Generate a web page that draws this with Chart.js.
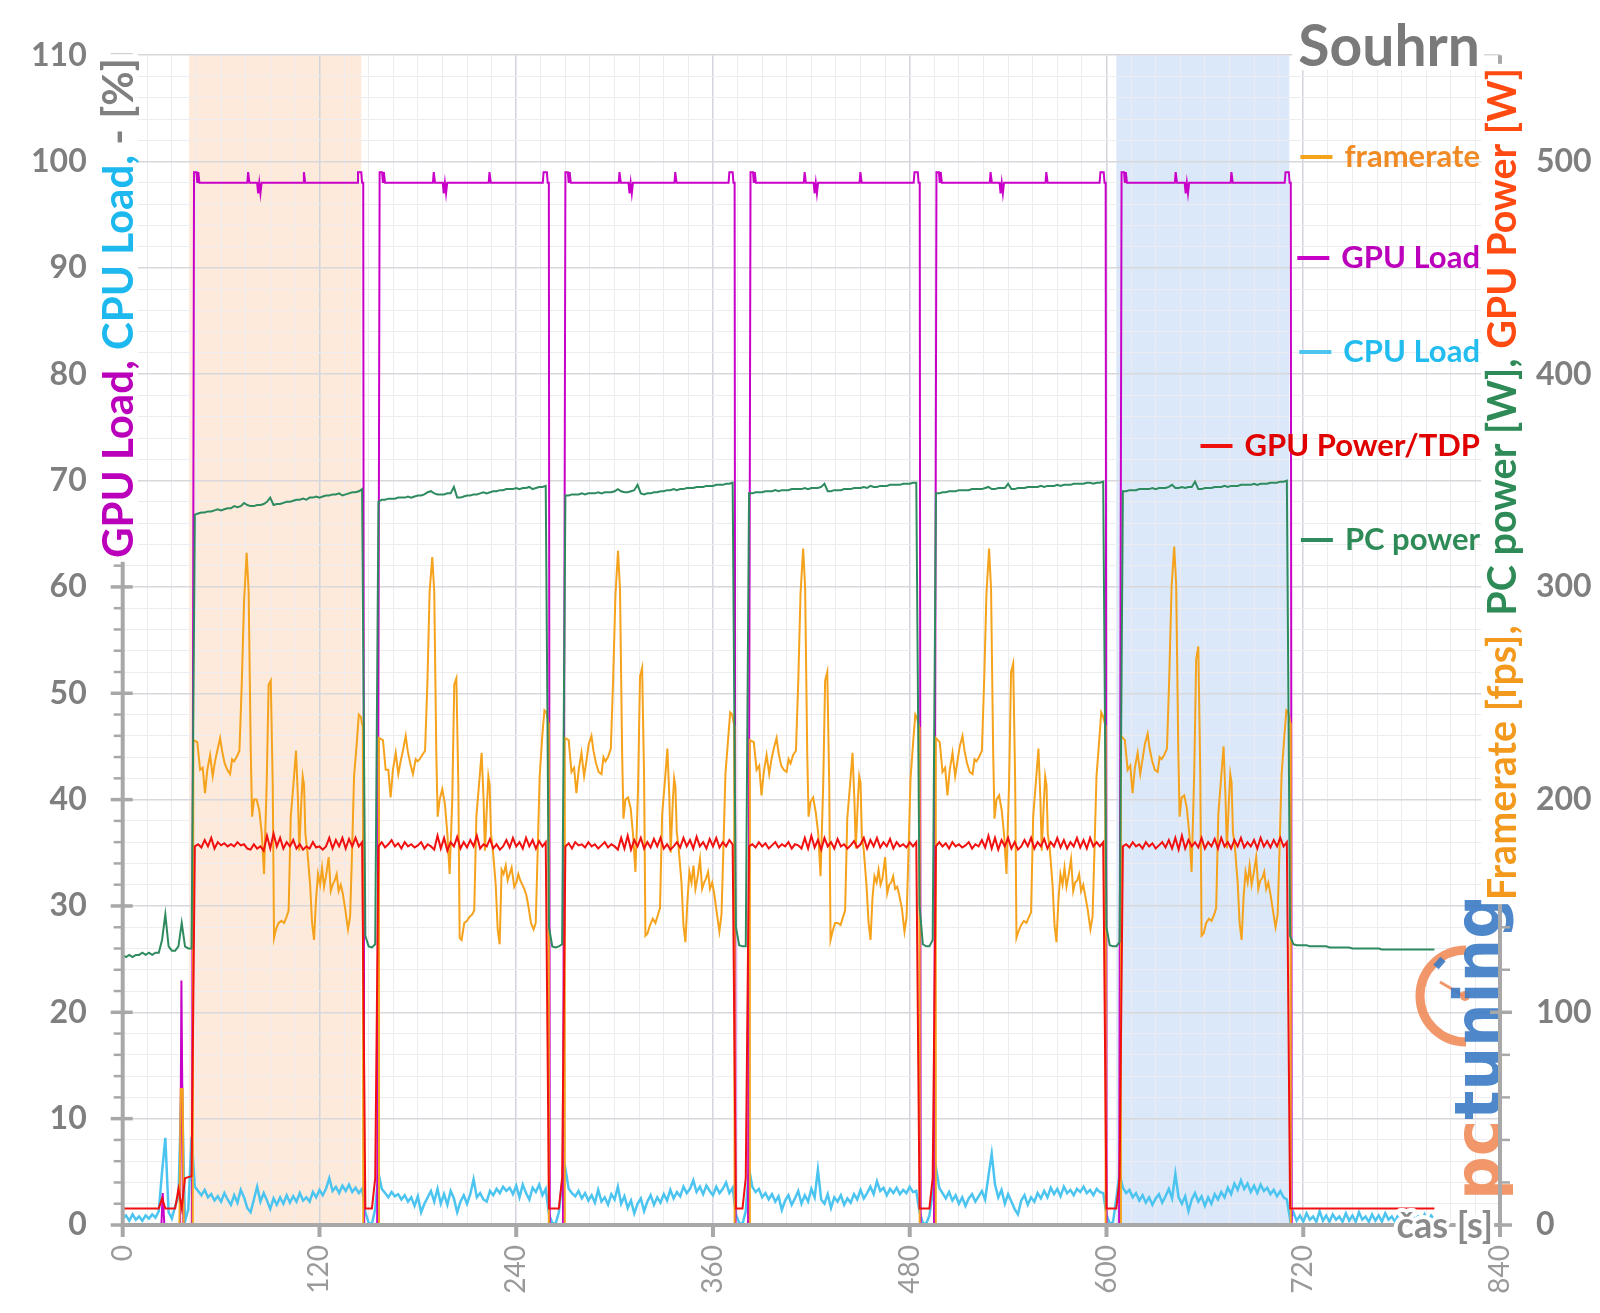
<!DOCTYPE html>
<html>
<head>
<meta charset="utf-8">
<script src="https://cdn.jsdelivr.net/npm/chart.js@4.4.1/dist/chart.umd.min.js"></script>
<style>
  html, body { margin: 0; padding: 0; background: #fff; }
  #wrap { width: 1600px; height: 1313px; }
</style>
</head>
<body>
<div id="wrap"><canvas id="chart" width="1600" height="1313"></canvas></div>
<script>
// ---- data ----
// noisy series sampled every 2 s, one row = 20 s
const sampleStep = 2;

// CPU Load [%] (left axis)
const cpuLoad = [
  0.6, 0.9, 0.4, 1.0, 0.5, 0.8, 0.4, 0.9, 0.6, 1.0,      // 0
  0.7, 1.3, 5.0, 8.2, 1.2, 0.6, 1.8, 2.6, 13.8, 0.3,     // 20
  1.5, 8.3, 3.6, 3.2, 2.8, 3.3, 2.6, 2.9, 2.3, 2.7,      // 40
  2.2, 3.0, 2.4, 1.9, 2.8, 2.1, 3.3, 2.6, 1.6, 1.2,      // 60
  2.4, 3.6, 2.2, 3.0, 2.3, 1.5, 2.5, 1.9, 2.6, 2.0,      // 80
  2.8, 2.1, 2.7, 2.2, 3.0, 2.3, 2.6, 2.2, 3.1, 2.6,      // 100
  3.3, 2.8, 3.4, 4.4, 3.2, 3.6, 3.0, 3.7, 3.2, 3.8,      // 120
  3.1, 3.5, 3.0, 3.4, 1.2, 0.2, 0.1, 1.5, 4.9, 3.4,      // 140
  3.0, 2.6, 3.1, 2.7, 2.9, 2.4, 2.8, 2.2, 2.6, 1.8,      // 160
  2.7, 1.2, 2.0, 2.6, 3.2, 2.2, 3.4, 2.0, 2.9, 1.9,      // 180
  3.2, 2.5, 1.2, 2.2, 2.8, 2.0, 2.9, 4.3, 2.6, 3.0,      // 200
  2.4, 2.2, 3.2, 2.8, 3.4, 3.0, 3.6, 3.2, 3.5, 2.9,      // 220
  3.7, 2.6, 3.8, 3.0, 2.4, 3.5, 3.1, 3.8, 2.8, 3.4,      // 240
  1.0, 0.2, 0.1, 1.2, 4.0, 5.3, 3.4, 3.0, 2.7, 3.2,      // 260
  2.5, 3.0, 2.3, 2.8, 2.1, 3.3, 2.2, 2.6, 1.9, 2.9,      // 280
  2.4, 3.6, 2.0, 2.7, 1.6, 2.3, 1.1, 2.0, 2.5, 1.3,      // 300
  2.2, 2.8, 1.9, 2.6, 2.1, 2.9, 2.3, 3.3, 2.5, 3.1,      // 320
  2.7, 3.6, 3.0, 3.4, 4.2, 3.1, 3.6, 2.9, 3.7, 3.2,      // 340
  2.8, 3.6, 3.0, 3.4, 4.0, 3.0, 3.5, 1.0, 0.2, 0.1,      // 360
  1.3, 5.3, 3.6, 3.1, 3.4, 2.6, 3.0, 2.4, 2.9, 2.2,      // 380
  2.7, 1.4, 2.3, 2.8, 1.9, 2.5, 3.2, 2.0, 2.8, 2.2,      // 400
  3.4, 2.6, 5.2, 2.4, 2.0, 2.9, 1.6, 2.6, 2.2, 2.8,      // 420
  1.9, 2.5, 2.1, 2.9, 2.4, 3.3, 2.5, 3.0, 3.6, 2.9,      // 440
  4.1, 3.2, 3.5, 2.8, 3.4, 3.0, 3.5, 2.9, 3.3, 3.0,      // 460
  3.6, 3.1, 3.2, 1.2, 0.2, 0.1, 0.9, 3.0, 5.4, 3.5,      // 480
  3.0, 2.5, 3.1, 2.3, 2.8, 2.0, 2.6, 1.8, 2.5, 2.9,      // 500
  2.2, 2.7, 3.2, 2.4, 4.6, 6.7, 3.8, 2.6, 3.3, 2.0,      // 520
  2.9, 2.2, 1.5, 1.0, 2.3, 2.8, 1.9, 2.6, 2.2, 3.0,      // 540
  2.5, 3.2, 2.6, 3.5, 2.9, 3.4, 2.7, 3.6, 3.0, 3.3,      // 560
  2.8, 3.4, 3.1, 3.6, 3.0, 3.3, 2.8, 3.4, 3.1, 3.0,      // 580
  1.0, 0.1, 0.3, 2.5, 4.8, 3.5, 3.0, 3.3, 2.6, 3.0,      // 600
  2.3, 2.8, 2.1, 2.6, 1.9, 2.5, 2.9, 2.1, 2.7, 3.4,      // 620
  2.5, 4.8, 2.6, 2.0, 2.7, 1.3, 2.4, 3.0, 2.2, 2.7,      // 640
  1.8, 2.6, 2.0, 2.9, 2.4, 3.1, 2.6, 3.5, 2.9, 3.9,      // 660
  3.3, 4.2, 3.4, 3.9, 3.1, 3.7, 3.0, 3.8, 3.2, 3.5,      // 680
  2.9, 3.3, 2.7, 3.2, 2.6, 2.4, 0.5, 1.2, 0.4, 0.9,      // 700
  0.3, 1.1, 0.5, 0.8, 0.3, 1.3, 0.4, 0.9, 0.3, 1.0,      // 720
  0.5, 0.8, 0.3, 1.1, 0.4, 0.9, 0.3, 1.2, 0.5, 0.8,      // 740
  0.3, 1.0, 0.4, 0.9, 0.3, 1.1, 0.5, 0.8, 0.3, 1.0,      // 760
  0.4, 0.9, 0.3, 1.1, 0.5, 0.8, 0.3, 1.0, 0.4, 0.9,      // 780
  0.5                                                     // 800
];

// GPU Power/TDP [W] (right axis)
const gpuPower = [
  7.8, 7.8, 7.8, 7.8, 7.8, 7.8, 7.8, 7.8, 7.8, 7.8,                 // 0
  7.8, 7.8, 12.5, 7.8, 7.8, 7.8, 7.8, 17, 8, 22,                    // 20
  22.5, 23, 178, 179, 177.5, 181, 178, 182, 177, 180,               // 40
  178.5, 179.5, 178, 179, 178, 180, 178.5, 179, 177, 176.5,         // 60
  179, 177, 178, 176, 183, 177, 184, 178, 182, 177,                 // 80
  180, 178, 181, 177, 179, 176.5, 178, 177, 180, 177.5,             // 100
  178, 176.5, 178, 182, 177, 181, 178, 182, 177, 181.5,             // 120
  178, 182, 178, 180, 7.8, 7.8, 7.8, 22, 178, 180,                  // 140
  177.5, 179, 181, 178, 179.5, 177, 180, 178, 179, 177.5,           // 160
  178.5, 180, 177, 179, 178, 176.5, 183, 177, 182, 176,             // 180
  180, 178, 182.5, 177, 180, 177.5, 181, 178, 183, 177,             // 200
  179, 178, 181.5, 177, 179, 176.5, 178, 181, 177.5, 182,           // 220
  178, 180, 177, 182, 178, 181, 177, 180.5, 178, 180,               // 240
  7.8, 7.8, 7.8, 7.8, 22, 178, 179.5, 177, 180, 178.5,              // 260
  179, 177.5, 180, 178, 179, 177, 178.5, 180, 177.5, 179,           // 280
  178, 176.5, 182, 177, 183, 176.5, 181, 178, 182, 177,             // 300
  180, 177.5, 181.5, 178, 182, 177, 179, 176.5, 178, 180,           // 320
  177.5, 182, 178, 181, 177, 182.5, 178, 180, 177, 181.5,           // 340
  178, 182, 177.5, 180, 178, 181, 179, 7.8, 7.8, 7.8,               // 360
  22, 178, 179, 177.5, 180, 178, 179.5, 177, 178.5, 180,            // 380
  177.5, 179, 178, 180, 177, 179, 178.5, 177, 182, 177,             // 400
  183, 177.5, 181, 176.5, 182, 178, 180, 177, 181.5, 178,           // 420
  179, 177, 178.5, 180.5, 177.5, 179, 182, 177, 181, 178,           // 440
  182, 177.5, 180, 178, 181.5, 177, 180, 178, 179, 177.5,           // 460
  180, 178, 180, 7.8, 7.8, 7.8, 7.8, 22, 178, 180,                  // 480
  178, 179.5, 177, 180, 178, 179, 177.5, 178.5, 180, 177,           // 500
  179, 178, 181, 177.5, 183, 177, 182, 176.5, 181, 178,             // 520
  182, 177, 180, 176.5, 178, 181, 178, 182, 177, 180,               // 540
  178, 181.5, 177, 180, 178, 182, 177.5, 181, 177, 180,             // 560
  178, 182, 177.5, 181, 177, 182, 178, 180, 178, 180,               // 580
  7.8, 7.8, 7.8, 7.8, 22, 178, 179, 177.5, 180, 178,                // 600
  179, 177, 180, 178, 179.5, 177, 178.5, 180, 177.5, 181,           // 620
  177, 182, 176.5, 183, 177, 181, 178, 180, 177.5, 182,             // 640
  177, 180, 178, 181.5, 177, 182, 178, 180, 177, 181,               // 660
  178, 182, 177.5, 180, 178, 181, 177, 182, 178, 180.5,             // 680
  177.5, 181, 178, 182, 178, 180, 7.8, 7.8, 7.8, 7.8,               // 700
  7.8, 7.8, 7.8, 7.8, 7.8, 7.8, 7.8, 7.8, 7.8, 7.8,                 // 720
  7.8, 7.8, 7.8, 7.8, 7.8, 7.8, 7.8, 7.8, 7.8, 7.8,                 // 740
  7.8, 7.8, 7.8, 7.8, 7.8, 7.8, 7.8, 7.8, 7.8, 7.8,                 // 760
  7.8, 7.8, 7.8, 7.8, 7.8, 7.8, 7.8, 7.8, 7.8, 7.8,                 // 780
  7.8                                                                // 800
];

// PC power [W] (right axis)
const pcPower = [
  127, 126, 127, 126, 127, 127, 128, 127, 128, 127,                         // 0
  128, 128, 134, 146, 131, 129, 129, 131, 142, 131,                         // 20
  130, 130, 334, 334.5, 335, 335, 335.5, 335.5, 336, 336.5,                 // 40
  336, 336.5, 337, 337, 338, 337.5, 338, 339.5, 338.5, 338,                 // 60
  338, 338.5, 338.5, 339, 340, 342, 338.5, 339, 339, 339.5,                 // 80
  340, 340, 340.5, 341, 341, 341.5, 341, 342, 342, 342.5,                   // 100
  342, 342.5, 343, 343, 343.5, 343.5, 344, 343, 343.5, 344,                 // 120
  344.5, 344.5, 345, 346, 136, 131, 130.5, 132, 340, 341,                   // 140
  341, 341.5, 341.5, 341.5, 342, 342, 342, 342.5, 342, 342.5,               // 160
  343, 343, 343.5, 344.5, 345, 344, 343.5, 343.5, 343.5, 344,               // 180
  344, 347, 342, 342, 342.5, 343, 343, 343.5, 343.5, 344,                   // 200
  344.5, 344, 344.5, 345, 345, 345.5, 345.5, 346, 346, 346,                 // 220
  346.5, 346, 346.5, 346.5, 347, 346, 346.5, 347, 347, 347.5,               // 240
  140, 131, 130.5, 131, 132, 343, 343, 343.5, 343.5, 343.5,                 // 260
  344, 343.5, 344, 344, 344, 344.5, 344, 344.5, 344.5, 344.5,               // 280
  345, 346, 345, 344.5, 344.5, 345, 345.5, 348, 344, 343.5,                 // 300
  344, 344, 344.5, 344.5, 345, 345, 345.5, 345.5, 346, 345.5,               // 320
  346, 346, 346.5, 346.5, 346.5, 347, 347, 347, 347.5, 347.5,               // 340
  347.5, 348, 348, 348, 348.5, 348.5, 349, 140, 131.5, 131,                 // 360
  131, 344, 344, 344.5, 344.5, 344.5, 345, 345, 345, 345.5,                 // 380
  345, 345.5, 345.5, 345.5, 346, 346, 346, 346, 346.5, 346,                 // 400
  346.5, 346.5, 346.5, 347, 348.5, 345, 345, 345.5, 345.5, 345.5,           // 420
  346, 346, 346, 346.5, 346.5, 346.5, 347, 346.5, 347.5, 347,               // 440
  347, 347.5, 347.5, 347.5, 348, 348, 348, 348, 348.5, 348.5,               // 460
  348.5, 349, 349, 150, 132, 131, 131, 134, 344, 344,                       // 480
  344.5, 344.5, 345, 345, 345, 345.5, 345.5, 345.5, 345.5, 346,             // 500
  346, 346, 346, 346.5, 347, 346, 346, 346.5, 346.5, 346.5,                 // 520
  348.5, 346, 346, 346.5, 346.5, 346.5, 347, 347, 347, 347,                 // 540
  347.5, 347, 347.5, 347.5, 347.5, 348, 347.5, 348, 348, 348,               // 560
  348.5, 348.5, 348.5, 348.5, 349, 349, 348.5, 349, 349, 349.5,             // 580
  140, 131.5, 131, 131, 133, 345, 345, 345.5, 345.5, 345.5,                 // 600
  346, 346, 346, 346, 346.5, 346, 346.5, 346.5, 346.5, 347,                 // 620
  348, 346.5, 346.5, 347, 346.5, 347, 347, 349.5, 346, 346,                 // 640
  346.5, 346.5, 346.5, 347, 347, 347, 347.5, 347, 347.5, 347.5,             // 660
  347.5, 348, 348, 348, 348, 348.5, 348, 348.5, 348.5, 348.5,               // 680
  349, 349, 349, 349.5, 349.5, 350, 136, 132, 131.5, 131.5,                 // 700
  131.5, 131.5, 131, 131, 131, 131, 131, 131, 130.5, 130.5,                 // 720
  130.5, 130.5, 130.5, 130.5, 130.5, 130, 130, 130, 130, 130,               // 740
  130, 130, 130, 130, 129.5, 129.5, 129.5, 129.5, 129.5, 129.5,             // 760
  129.5, 129.5, 129.5, 129.5, 129.5, 129.5, 129.5, 129.5, 129.5, 129.5,     // 780
  129.5                                                                      // 800
];

// GPU Load [%] (left axis): [time s, value]
const gpuLoad = [
  [0, 0], [23.6, 0], [24.4, 3], [25.4, 0], [35, 0], [35.8, 23], [37, 0], [42.2, 0], [43.5, 99],
  [45, 99], [45.5, 98], [46.1, 99], [46.8, 98], [76, 98], [76.5, 99], [77.3, 98], [82, 98], [82.6, 97],
  [83.3, 98], [84, 97], [84.7, 98], [110, 98], [110.5, 99], [111.3, 98], [143, 98], [143.5, 99],
  [145.5, 99], [146, 98], [146.7, 98], [147.3, 0], [155.2, 0],
  [156.7, 99], [158.2, 99], [158.7, 98], [159.3, 99], [160, 98], [189.2, 98], [189.7, 99], [190.5, 98],
  [195.2, 98], [195.8, 97], [196.5, 98], [197.2, 97], [197.9, 98], [223.2, 98], [223.7, 99], [224.5, 98],
  [256.2, 98], [256.7, 99], [258.7, 99], [259.2, 98], [259.9, 98], [260.5, 0], [268.5, 0],
  [270, 99], [271.5, 99], [272, 98], [272.6, 99], [273.3, 98], [302.5, 98], [303, 99], [303.8, 98],
  [308.5, 98], [309.1, 97], [309.8, 98], [310.5, 97], [311.2, 98], [336.5, 98], [337, 99], [337.8, 98],
  [369.5, 98], [370, 99], [372, 99], [372.5, 98], [373.2, 98], [373.8, 0], [381.4, 0],
  [382.9, 99], [384.4, 99], [384.9, 98], [385.5, 99], [386.2, 98], [415.4, 98], [415.9, 99], [416.7, 98],
  [421.4, 98], [422, 97], [422.7, 98], [423.4, 97], [424.1, 98], [449.4, 98], [449.9, 99], [450.7, 98],
  [482.4, 98], [482.9, 99], [484.9, 99], [485.4, 98], [486.1, 98], [486.7, 0], [494.8, 0],
  [496.3, 99], [497.8, 99], [498.3, 98], [498.9, 99], [499.6, 98], [528.8, 98], [529.3, 99], [530.1, 98],
  [534.8, 98], [535.4, 97], [536.1, 98], [536.8, 97], [537.5, 98], [562.8, 98], [563.3, 99], [564.1, 98],
  [595.8, 98], [596.3, 99], [598.3, 99], [598.8, 98], [599.5, 98], [600.1, 0], [607.7, 0],
  [609.2, 99], [610.7, 99], [611.2, 98], [611.8, 99], [612.5, 98], [641.7, 98], [642.2, 99], [643, 98],
  [647.7, 98], [648.3, 97], [649, 98], [649.7, 97], [650.4, 98], [675.7, 98], [676.2, 99], [677, 98],
  [708.7, 98], [709.2, 99], [711.2, 99], [711.7, 98], [712.4, 98], [713, 0], [800, 0]
];

// framerate [fps] (right axis): six benchmark runs
const runStart = [42.7, 155.9, 269.2, 382.1, 495.5, 608.4];
const fpsOffset = [0, 0.4, 2.8, 4.5, 6.1, 7.5, 8.9, 10.6, 12.2, 13.6, 15.0, 16.7, 17.9, 19.5, 21.1, 22.8,
  24.0, 25.2, 26.8, 28.5, 29.9, 31.3, 32.9, 34.1, 35.4, 36.2, 37.4, 39.0, 40.6, 42.1, 43.5, 45.1, 46.3,
  47.6, 48.8, 49.6, 50.8, 52.4, 54.1, 55.7, 57.3, 58.5, 59.8, 61.4, 63.0, 64.2, 65.0, 66.3, 67.1, 67.9,
  68.7, 69.9, 71.6, 72.8, 74.0, 75.2, 76.4, 77.7, 78.9, 80.1, 81.3, 82.9, 84.2, 85.4, 86.6, 87.8, 89.0,
  90.3, 91.5, 93.1, 94.7, 96.0, 97.2, 98.4, 100.0, 101.3, 102.5, 103.7, 104.0];
const fpsRun1 = [0, 228, 227, 214, 215, 203, 214, 221, 211, 218, 223, 229, 223, 217, 214, 212, 219, 218, 220, 223, 254,
  293, 316, 298, 223, 192, 200, 200, 195, 184, 165, 207, 254, 256, 207, 135, 139, 142, 143, 142, 145,
  148, 192, 207, 223, 200, 176, 200, 211, 207, 184, 176, 160, 142, 134, 153, 165, 160, 168, 159, 164,
  173, 157, 160, 162, 165, 157, 160, 156, 148, 139, 145, 176, 211, 226, 240, 239, 234, 0];
const fpsRun2 = [0, 229, 228, 214, 214, 201, 214, 222, 212, 218, 223, 230, 223, 217, 212, 219, 218, 219, 221, 223, 254,
  298, 314, 298, 220, 192, 200, 205, 198, 184, 165, 200, 254, 257, 207, 135, 134, 142, 143, 145, 146,
  148, 192, 207, 222, 200, 176, 198, 211, 207, 184, 176, 160, 139, 132, 167, 165, 169, 162, 165, 168,
  159, 161, 165, 162, 160, 158, 155, 150, 142, 139, 142, 176, 211, 230, 242, 241, 236, 0];
const fpsRun3 = [0, 229, 228, 213, 215, 203, 214, 222, 211, 218, 226, 230, 223, 217, 213, 212, 220, 218, 220, 224, 256,
  296, 317, 299, 222, 191, 200, 201, 196, 183, 166, 205, 258, 262, 210, 136, 137, 141, 144, 142, 146,
  149, 193, 208, 224, 201, 175, 199, 210, 206, 185, 177, 161, 141, 133, 152, 166, 161, 169, 158, 163,
  172, 158, 161, 163, 166, 158, 161, 156, 147, 138, 146, 178, 212, 228, 241, 240, 235, 0];
const fpsRun4 = [0, 228, 227, 214, 216, 202, 213, 221, 212, 219, 224, 229, 222, 216, 214, 213, 219, 217, 221, 223, 255,
  297, 318, 300, 221, 192, 199, 201, 194, 184, 164, 206, 256, 260, 208, 134, 138, 142, 142, 141, 145,
  148, 191, 206, 222, 199, 177, 200, 211, 208, 183, 176, 159, 142, 134, 154, 164, 161, 167, 160, 163,
  173, 156, 160, 161, 164, 158, 159, 155, 149, 138, 145, 177, 210, 227, 240, 238, 234, 0];
const fpsRun5 = [0, 229, 227, 213, 215, 202, 214, 222, 211, 218, 225, 230, 223, 217, 213, 212, 219, 218, 220, 223, 256,
  297, 318, 299, 222, 191, 200, 202, 195, 183, 165, 208, 260, 264, 209, 135, 138, 141, 143, 142, 145,
  147, 192, 208, 224, 200, 176, 199, 211, 207, 184, 177, 160, 141, 133, 153, 165, 160, 168, 159, 164,
  172, 157, 161, 162, 165, 157, 160, 155, 148, 139, 145, 177, 211, 227, 241, 239, 235, 0];
const fpsRun6 = [0, 230, 228, 214, 216, 203, 215, 222, 212, 219, 226, 231, 224, 218, 214, 213, 220, 219, 221, 224, 258,
  300, 319, 301, 223, 192, 201, 202, 196, 184, 166, 212, 266, 272, 212, 136, 137, 142, 144, 143, 146,
  149, 193, 209, 225, 201, 177, 200, 212, 208, 185, 178, 161, 142, 134, 154, 166, 161, 169, 160, 165,
  173, 158, 162, 163, 166, 158, 161, 156, 148, 140, 146, 178, 212, 229, 242, 241, 236, 0];
const fpsRuns = [fpsRun1, fpsRun2, fpsRun3, fpsRun4, fpsRun5, fpsRun6];
const fpsIdle = [[0, 0], [34.6, 0], [35.4, 64], [36.6, 64], [37.2, 0]];
const fpsTail = [[772, 0]];

// highlighted time spans [s]
const bandOrange = [40.5, 145.5];
const bandBlue = [606, 711.5];

const legendItems = [
  ['framerate', '#f08a24', '#f5a21c', 157],
  ['GPU Load', '#bb00bb', '#c800c8', 258],
  ['CPU Load', '#22bdee', '#4cc4f0', 352],
  ['GPU Power/TDP', '#e00000', '#f01010', 446],
  ['PC power', '#2e8b57', '#2e8b5f', 540]
];
const leftTitle = [['GPU Load, ', '#bb00bb'], ['CPU Load, ', '#1cb8ee'], ['- [%]', '#808080']];
const rightTitle = [['Framerate [fps], ', '#f39a1e'], ['PC power [W], ', '#2e8b57'], ['GPU Power [W]', '#ff4a12']];

// ---- build series ----
const uniform = arr => arr.map((v, i) => ({ x: i * sampleStep, y: v }));
const pairs = arr => arr.map(([x, y]) => ({ x, y }));
const fpsData = pairs(fpsIdle)
  .concat(...runStart.map((s, k) => fpsOffset.map((o, i) => ({ x: s + o, y: fpsRuns[k][i] }))))
  .concat(pairs(fpsTail));

const FONT = 'Lato, "Open Sans", sans-serif';

function drawLogo(ctx) {
  ctx.save();
  ctx.globalAlpha = 0.9;
  ctx.strokeStyle = '#f08c5a';
  ctx.lineWidth = 9;
  ctx.beginPath();
  ctx.arc(1466, 996, 46, Math.PI / 2, Math.PI * 1.5);
  ctx.stroke();
  ctx.lineWidth = 3;
  ctx.beginPath();
  ctx.moveTo(1440, 982);
  ctx.lineTo(1464, 996);
  ctx.stroke();
  ctx.fillStyle = '#f08c5a';
  ctx.beginPath();
  ctx.arc(1465, 996, 5, 0, Math.PI * 2);
  ctx.fill();
  ctx.strokeStyle = '#3b7bc4';
  ctx.lineWidth = 7;
  ctx.beginPath();
  ctx.moveTo(1436, 967);
  ctx.lineTo(1443, 959);
  ctx.stroke();
  ctx.translate(1500, 1200);
  ctx.rotate(-Math.PI / 2);
  ctx.font = 'bold 64px "DejaVu Sans"';
  const w1 = ctx.measureText('pc').width, w2 = ctx.measureText('tuning').width;
  ctx.scale(305 / (w1 + w2), 1);
  ctx.fillStyle = '#f08c5a';
  ctx.fillText('pc', 0, 0);
  ctx.fillStyle = '#3b7bc4';
  ctx.fillText('tuning', w1, 0);
  ctx.restore();
}

function drawRotatedTitle(ctx, parts, cx, cy, size) {
  ctx.save();
  ctx.font = 'bold ' + size + 'px ' + FONT;
  const widths = parts.map(p => ctx.measureText(p[0]).width);
  const total = widths.reduce((a, b) => a + b, 0);
  ctx.fillStyle = '#fff';
  ctx.fillRect(cx - size * 0.5, cy - total / 2 - 4, size, total + 8);
  ctx.translate(cx, cy);
  ctx.rotate(-Math.PI / 2);
  ctx.textBaseline = 'middle';
  let x = -total / 2;
  parts.forEach((p, i) => {
    ctx.fillStyle = p[1];
    ctx.fillText(p[0], x, 2);
    x += widths[i];
  });
  ctx.restore();
}

const bands = {
  id: 'bands',
  beforeDraw(chart) {
    const { ctx, chartArea: a, scales: { x } } = chart;
    ctx.save();
    ctx.fillStyle = '#fff';
    ctx.fillRect(0, 0, chart.width, chart.height);
    [[bandOrange, '#fdeadb'], [bandBlue, '#dbe8f9']].forEach(([b, c]) => {
      const x0 = x.getPixelForValue(b[0]), x1 = x.getPixelForValue(b[1]);
      ctx.fillStyle = c;
      ctx.fillRect(x0, a.top, x1 - x0, a.bottom - a.top);
    });
    ctx.restore();
  }
};

const decor = {
  id: 'decor',
  afterDraw(chart) {
    const { ctx, chartArea: a, scales } = chart;
    const yL = scales.y, yR = scales.y2, x = scales.x;
    drawLogo(ctx);
    ctx.save();
    ctx.strokeStyle = '#a8a8a8';
    // axis lines
    ctx.lineWidth = 4;
    ctx.beginPath();
    ctx.moveTo(a.left, a.top); ctx.lineTo(a.left, a.bottom + 2);
    ctx.moveTo(a.left - 2, a.bottom); ctx.lineTo(a.right + 2, a.bottom);
    ctx.moveTo(a.right, a.top); ctx.lineTo(a.right, a.bottom + 2);
    ctx.stroke();
    // tick marks
    for (let v = 0; v <= 110; v += 2) {
      const y = yL.getPixelForValue(v), major = v % 10 === 0;
      ctx.lineWidth = major ? 3.5 : 2.5;
      ctx.beginPath();
      ctx.moveTo(a.left - (major ? 12 : 9), y);
      ctx.lineTo(a.left + (major ? 10 : 0), y);
      ctx.stroke();
    }
    for (let v = 0; v <= 540; v += 20) {
      const y = yR.getPixelForValue(v), major = v % 100 === 0;
      ctx.lineWidth = major ? 3.5 : 2.5;
      ctx.beginPath();
      ctx.moveTo(a.right - (major ? 10 : -2), y);
      ctx.lineTo(a.right + (major ? 12 : 10), y);
      ctx.stroke();
    }
    for (let t = 0; t <= 840; t += 120) {
      const px = x.getPixelForValue(t);
      ctx.lineWidth = 4;
      ctx.beginPath();
      ctx.moveTo(px, a.bottom);
      ctx.lineTo(px, a.bottom + 12);
      ctx.stroke();
    }
    ctx.restore();

    // axis titles
    drawRotatedTitle(ctx, leftTitle, 117, 308, 42);
    drawRotatedTitle(ctx, rightTitle, 1501, 484, 39.5);

    ctx.save();
    // legend
    ctx.font = 'bold 31px ' + FONT;
    ctx.textBaseline = 'middle';
    legendItems.forEach(([label, tc, lc, y]) => {
      const w = ctx.measureText(label).width;
      const left = 1480 - w;
      ctx.fillStyle = tc;
      ctx.fillText(label, left, y);
      ctx.strokeStyle = lc;
      ctx.lineWidth = 4;
      ctx.beginPath();
      ctx.moveTo(left - 44, y);
      ctx.lineTo(left - 12, y);
      ctx.stroke();
    });
    // chart title
    ctx.font = 'bold 57px ' + FONT;
    ctx.textBaseline = 'alphabetic';
    ctx.textAlign = 'right';
    const tw = ctx.measureText('Souhrn').width;
    ctx.fillStyle = '#fff';
    ctx.fillRect(1480 - tw - 6, 16, tw + 10, 54);
    ctx.fillStyle = '#7a7a7a';
    ctx.fillText('Souhrn', 1480, 66);
    // x axis title
    ctx.font = 'bold 36px ' + FONT;
    ctx.lineJoin = 'round';
    ctx.strokeStyle = '#fff';
    ctx.lineWidth = 8;
    ctx.strokeText('čas [s]', 1493, 1238);
    ctx.fillStyle = '#8a8a8a';
    ctx.fillText('čas [s]', 1493, 1238);
    ctx.restore();
  }
};

const line = (label, data, color, axis, width) => ({
  label, data, yAxisID: axis,
  borderColor: color, backgroundColor: color,
  borderWidth: width, pointRadius: 0, tension: 0, fill: false
});

new Chart(document.getElementById('chart'), {
  type: 'line',
  data: {
    datasets: [
      line('GPU Power/TDP', uniform(gpuPower), '#f01010', 'y2', 2),
      line('PC power', uniform(pcPower), '#2e8b5f', 'y2', 2),
      line('framerate', fpsData, '#f5a21c', 'y2', 2),
      line('GPU Load', pairs(gpuLoad), '#c800c8', 'y', 2),
      line('CPU Load', uniform(cpuLoad), '#4cc4f0', 'y', 2.5)
    ]
  },
  options: {
    responsive: false,
    animation: false,
    events: [],
    layout: { padding: { top: 53, left: 0, right: 0, bottom: 0 } },
    plugins: { legend: { display: false }, tooltip: { enabled: false } },
    scales: {
      x: {
        type: 'linear', min: 0, max: 840,
        afterFit: s => { s.height = 88; },
        border: { display: false },
        grid: {
          drawTicks: false,
          color: c => c.tick && c.tick.value % 120 === 0 ? '#d4d4dc' : '#ececf0',
          lineWidth: c => c.tick && c.tick.value % 120 === 0 ? 1.5 : 1
        },
        ticks: {
          stepSize: 15, autoSkip: false, minRotation: 90, maxRotation: 90, padding: 20,
          color: '#9a9a9a', font: { family: FONT, size: 28 },
          callback: v => v % 120 === 0 ? String(v) : ''
        }
      },
      y: {
        position: 'left', min: 0, max: 110,
        afterFit: s => { s.width = 122.7; },
        border: { display: false },
        grid: {
          drawTicks: false,
          color: c => c.tick && c.tick.value % 10 === 0 ? '#d8d8dc' : '#ededf0',
          lineWidth: c => c.tick && c.tick.value % 10 === 0 ? 1.5 : 1
        },
        ticks: {
          stepSize: 2, autoSkip: false, padding: 36,
          color: '#7f7f7f', font: { family: FONT, size: 32, weight: 'bold' },
          callback: v => v % 10 === 0 ? String(v) : ''
        }
      },
      y2: {
        position: 'right', min: 0, max: 550,
        afterFit: s => { s.width = 100; },
        border: { display: false },
        grid: { drawOnChartArea: false, drawTicks: false },
        ticks: {
          stepSize: 100, autoSkip: false, padding: 36,
          color: '#7f7f7f', font: { family: FONT, size: 32, weight: 'bold' },
          callback: v => v <= 500 && v % 100 === 0 ? String(v) : ''
        }
      }
    }
  },
  plugins: [bands, decor]
});
</script>
</body>
</html>
